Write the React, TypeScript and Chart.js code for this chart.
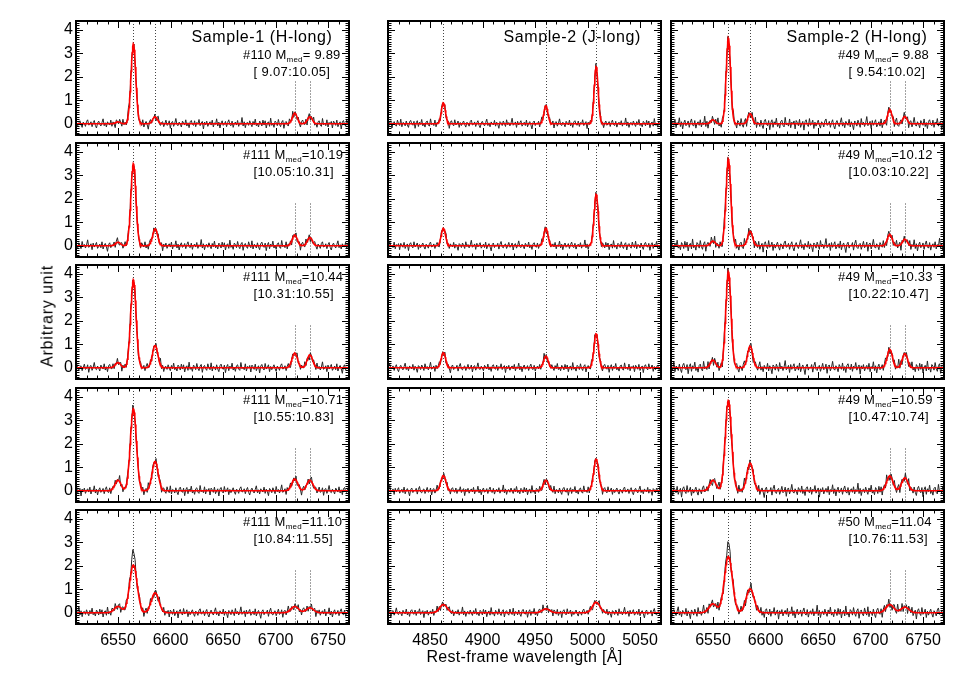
import React, { useEffect, useRef } from 'react';
import { Chart, registerables } from 'chart.js';
Chart.register(...registerables);

// ---------- data ----------
const H_RANGE = [6510, 6770];
const J_RANGE = [4810, 5070];
const Y_RANGE = [-0.48, 4.38];
const H_TICKS = [6550, 6600, 6650, 6700, 6750];
const J_TICKS = [4850, 4900, 4950, 5000, 5050];
const Y_TICKS = [0, 1, 2, 3, 4];

// line centres (vacuum, Angstrom): [NII]6548, Halpha, [NII]6583, [SII]6716, [SII]6731
const H_LINES = [6549.9, 6564.6, 6585.3, 6718.3, 6732.7];
// Hbeta, [OIII]4959, [OIII]5007
const J_LINES = [4862.7, 4960.3, 5008.2];
// marked lines: [centre, full height?]
const H_MARKS: [number, boolean][] = [[6564.6, true], [6585.3, true], [6718.3, false], [6732.7, false]];
const J_MARKS: [number, boolean][] = [[4862.7, true], [4960.3, true], [5008.2, true]];
const MARK_TOP = 1.8;

// model peak heights per row
const S1H_AMP = [
  [0.08, 3.40, 0.30, 0.45, 0.30],
  [0.15, 3.50, 0.72, 0.45, 0.35],
  [0.22, 3.75, 0.95, 0.62, 0.55],
  [0.45, 3.50, 1.25, 0.50, 0.45],
  [0.27, 2.04, 0.85, 0.27, 0.21],
];
const S1H_SIG = [2.3, 2.4, 2.6, 2.9, 3.6];
const S1H_EXTRA = [0, 0, 0, 0, 0.68];

const S2J_AMP = [
  [0.90, 0.77, 2.44],
  [0.75, 0.75, 2.20],
  [0.65, 0.50, 1.45],
  [0.65, 0.45, 1.35],
  [0.35, 0.17, 0.45],
];
const S2J_SIG = [1.9, 2.0, 2.1, 2.4, 3.6];
const S2J_EXTRA = [0, 0, 0, 0, 0];

const S2H_AMP = [
  [0.17, 3.65, 0.43, 0.60, 0.31],
  [0.20, 3.70, 0.62, 0.48, 0.28],
  [0.33, 4.10, 0.92, 0.78, 0.60],
  [0.45, 3.85, 1.18, 0.63, 0.55],
  [0.38, 2.40, 1.02, 0.35, 0.24],
];
const S2H_SIG = [2.1, 2.3, 2.5, 3.0, 3.8];
const S2H_EXTRA = [0, 0, 0, 0, 0.65];

const S1H_ID = ['#110', '#111', '#111', '#111', '#111'];
const S1H_MMED = [' 9.89', '10.19', '10.44', '10.71', '11.10'];
const S1H_MRANGE = ['[ 9.07:10.05]', '[10.05:10.31]', '[10.31:10.55]', '[10.55:10.83]', '[10.84:11.55]'];
const S2H_ID = ['#49', '#49', '#49', '#49', '#50'];
const S2H_MMED = [' 9.88', '10.12', '10.33', '10.59', '11.04'];
const S2H_MRANGE = ['[ 9.54:10.02]', '[10.03:10.22]', '[10.22:10.47]', '[10.47:10.74]', '[10.76:11.53]'];

// residual noise of the observed spectra (hundredths of a unit)
const NOISE = [
  4, -6, 2, 9, -3, -11, 5, 1, -8, 7, 12, -4, -2, 6, -9, 3, 10, -5, -13, 2,
  8, -1, -7, 4, 15, -6, 3, -10, 6, 0, -4, 11, -8, 5, -2, -15, 7, 3, -6, 9,
  1, -9, 13, -3, 4, -7, 2, 18, -5, -1, 6, -12, 8, -4, 3, 10, -8, -2, 5, -6,
  12, -10, 1, 7, -3, -17, 4, 9, -6, 2, -1, 8, -11, 5, 14, -4, -7, 3, 6, -9,
  0, 11, -5, -2, 9, -14, 4, 7, -8, 1, 16, -3, -6, 5, -1, -10, 8, 2, -4, 12,
  -7, 3, -12, 6, 10, -2, -5, 9, -9, 4, -1, 13, -6, 2, 7, -16, 5, -3, 8, -8,
  1, 6, -4, 11, -10, 3, -2, 15, -7, 5, -13, 2, 9, -5, -1, 7, -9, 4, 12, -3,
  -6, 8, -11, 1, 5, -4, 10, -8, 3, -2, 19, -7, 6, -12, 2, 4, -5, 9, -1, -9,
  7, -3, 14, -6, 0, -10, 8, 3, -7, 11, -4, 9, -13, 2, 6, -8, 17, -5, 1, -11,
  8, 4, -6, 13, -2, -9, 5, 10, -14, 3, 7, -3, -8, 12, 0, -6, 15, -10, 4, 2,
  -7, 9, -4, -12, 6, 11, -1, -5, 8, -15, 3, 10, -9, 5, -2, 14, -7, 1, -11, 6,
  9, -4, -8, 16, -3, 2, -6, 12, -10, 4, -1, 7, -13, 8, 3, -5, 11, -9, 0, 6,
  -16, 5, 10, -2, -7, 13, -4, 1, 9, -12,
];

// ---------- layout ----------
const COL_X = [76, 388, 671];
const ROW_Y = [21, 143, 265, 388, 510];
const PW = 273;
const PH = 114;
const PAD_L = 44;
const PAD_B = 36;
const PAD_T = 14;
const PAD_R = 24;
const FONT = "'Liberation Sans', Arial, Helvetica, sans-serif";

function gauss(x: number, c: number, s: number) {
  const d = (x - c) / s;
  return Math.exp(-0.5 * d * d);
}

type PanelProps = {
  left: number; top: number;
  xRange: number[]; xTicks: number[];
  centers: number[]; amps: number[]; sig: number; extra: number;
  marks: [number, boolean][];
  showX: boolean; showY: boolean;
  noiseOffset: number; noiseScale: number;
};

function Panel(p: PanelProps) {
  const ref = useRef<HTMLCanvasElement | null>(null);
  useEffect(() => {
    if (!ref.current) return;
    const model = (x: number) => {
      let y = 0;
      for (let i = 0; i < p.centers.length; i++) y += p.amps[i] * gauss(x, p.centers[i], p.sig);
      return y;
    };
    const hcen = p.centers.length === 5 ? p.centers[1] : p.centers[2];
    const red: { x: number; y: number }[] = [];
    for (let x = p.xRange[0]; x <= p.xRange[1] + 1e-6; x += 0.5) red.push({ x, y: model(x) });
    const blk: { x: number; y: number }[] = [];
    let i = 0;
    for (let x = p.xRange[0] + 0.6; x <= p.xRange[1]; x += 1.05, i++) {
      const n = NOISE[(i + p.noiseOffset) % NOISE.length] * 0.01 * p.noiseScale;
      blk.push({ x, y: model(x) + p.extra * gauss(x, hcen, 1.3) + n });
    }
    const framePlugin = {
      id: 'frame',
      beforeDatasetsDraw(chart: any) {
        const { ctx, chartArea: a, scales } = chart;
        ctx.save();
        ctx.strokeStyle = '#444';
        ctx.lineWidth = 1;
        ctx.setLineDash([1, 2]);
        p.marks.forEach(([c, full]) => {
          const xp = Math.round(scales.x.getPixelForValue(c)) + 0.5;
          const yt = full ? a.top : scales.y.getPixelForValue(MARK_TOP);
          ctx.beginPath();
          ctx.moveTo(xp, yt);
          ctx.lineTo(xp, a.bottom);
          ctx.stroke();
        });
        ctx.restore();
      },
      afterDraw(chart: any) {
        const { ctx, chartArea: a, scales } = chart;
        ctx.save();
        ctx.strokeStyle = '#000';
        ctx.lineWidth = 1;
        ctx.setLineDash([]);
        ctx.beginPath();
        for (let v = Math.ceil(p.xRange[0] / 10) * 10; v <= p.xRange[1]; v += 10) {
          const len = v % 50 === 0 ? 7 : 3.5;
          const xp = Math.round(scales.x.getPixelForValue(v)) + 0.5;
          ctx.moveTo(xp, a.bottom); ctx.lineTo(xp, a.bottom - len);
          ctx.moveTo(xp, a.top); ctx.lineTo(xp, a.top + len);
        }
        for (let k = -4; k <= 43; k++) {
          const v = k / 10;
          if (v < Y_RANGE[0] || v > Y_RANGE[1]) continue;
          const len = k % 10 === 0 ? 7 : 3.5;
          const yp = Math.round(scales.y.getPixelForValue(v)) + 0.5;
          ctx.moveTo(a.left, yp); ctx.lineTo(a.left + len, yp);
          ctx.moveTo(a.right, yp); ctx.lineTo(a.right - len, yp);
        }
        ctx.stroke();
        ctx.lineWidth = 2;
        ctx.strokeRect(a.left, a.top, a.right - a.left, a.bottom - a.top);
        ctx.restore();
      },
    };
    const chart = new Chart(ref.current, {
      type: 'line',
      data: {
        datasets: [
          { data: red, borderColor: '#ff0000', borderWidth: 1.6, pointRadius: 0, tension: 0, fill: false },
          { data: blk, borderColor: '#262626', borderWidth: 1, pointRadius: 0, tension: 0, fill: false },
        ],
      },
      options: {
        animation: false,
        responsive: false,
        devicePixelRatio: 1,
        events: [],
        layout: { padding: { top: PAD_T, right: PAD_R, left: 0, bottom: 0 } },
        plugins: { legend: { display: false }, tooltip: { enabled: false } },
        scales: {
          x: {
            type: 'linear', min: p.xRange[0], max: p.xRange[1],
            grid: { display: false, drawTicks: false }, border: { display: false },
            ticks: {
              display: p.showX, color: '#000', padding: 3, maxRotation: 0, autoSkip: false,
              font: { family: FONT, size: 16, lineHeight: 1.75 }, callback: (v: any) => String(v),
            },
            afterBuildTicks: (s: any) => { s.ticks = p.xTicks.map((v) => ({ value: v })); },
            afterFit: (s: any) => { s.height = PAD_B; },
          },
          y: {
            type: 'linear', min: Y_RANGE[0], max: Y_RANGE[1],
            grid: { display: false, drawTicks: false }, border: { display: false },
            ticks: {
              display: p.showY, color: '#000', padding: 3,
              font: { family: FONT, size: 16 }, callback: (v: any) => String(v),
            },
            afterBuildTicks: (s: any) => { s.ticks = Y_TICKS.map((v) => ({ value: v })); },
            afterFit: (s: any) => { s.width = PAD_L; },
          },
        },
      } as any,
      plugins: [framePlugin],
    });
    return () => chart.destroy();
  }, []);
  const W = PW + PAD_L + PAD_R;
  const H = PH + PAD_T + PAD_B;
  return (
    <canvas
      ref={ref}
      width={W}
      height={H}
      style={{ position: 'absolute', left: p.left - PAD_L, top: p.top - PAD_T, width: W, height: H }}
    />
  );
}

function Label(props: { x: number; y: number; size: number; ls?: number; children: any }) {
  return (
    <div
      style={{
        position: 'absolute', left: props.x, top: props.y - props.size * 0.6,
        fontFamily: FONT, fontSize: props.size, lineHeight: `${props.size * 1.2}px`,
        letterSpacing: props.ls || 0, whiteSpace: 'pre', color: '#000',
      }}
    >
      {props.children}
    </div>
  );
}

export default function App() {
  const cols = [
    { kind: 'H', amps: S1H_AMP, sig: S1H_SIG, extra: S1H_EXTRA, title: 'Sample-1 (H-long)', ids: S1H_ID, mmed: S1H_MMED, mr: S1H_MRANGE, ns: 1.4 },
    { kind: 'J', amps: S2J_AMP, sig: S2J_SIG, extra: S2J_EXTRA, title: 'Sample-2 (J-long)', ids: null, mmed: null, mr: null, ns: 1.3 },
    { kind: 'H', amps: S2H_AMP, sig: S2H_SIG, extra: S2H_EXTRA, title: 'Sample-2 (H-long)', ids: S2H_ID, mmed: S2H_MMED, mr: S2H_MRANGE, ns: 1.7 },
  ];
  const panels: any[] = [];
  const texts: any[] = [];
  cols.forEach((c, ci) => {
    ROW_Y.forEach((ry, ri) => {
      const isH = c.kind === 'H';
      panels.push(
        <Panel
          key={`p${ci}-${ri}`}
          left={COL_X[ci]} top={ry}
          xRange={isH ? H_RANGE : J_RANGE}
          xTicks={isH ? H_TICKS : J_TICKS}
          centers={isH ? H_LINES : J_LINES}
          amps={c.amps[ri]} sig={c.sig[ri]} extra={c.extra[ri]}
          marks={isH ? H_MARKS : J_MARKS}
          showX={ri === 4} showY={ci === 0}
          noiseOffset={(ci * 5 + ri) * 37}
          noiseScale={c.ns}
        />
      );
      if (ri === 0) {
        texts.push(<Label key={`t${ci}`} x={COL_X[ci] + 115.5} y={ry + 15.5} size={16} ls={0.6}>{c.title}</Label>);
      }
      if (c.ids && c.mmed && c.mr) {
        const y1 = ri === 0 ? ry + 34 : ry + 11.5;
        const y2 = ri === 0 ? ry + 51 : ry + 28.5;
        texts.push(
          <Label key={`m${ci}-${ri}`} x={COL_X[ci] + 167} y={y1} size={13} ls={0.2}>
            {c.ids[ri] + ' M'}
            <span style={{ fontSize: 8, position: 'relative', top: 3 }}>med</span>
            {'=' + c.mmed[ri]}
          </Label>
        );
        texts.push(<Label key={`r${ci}-${ri}`} x={COL_X[ci] + 177.5} y={y2} size={13} ls={0.35}>{c.mr[ri]}</Label>);
      }
    });
  });
  return (
    <div style={{ position: 'absolute', left: 0, top: 0, width: 969, height: 678, background: '#fff', overflow: 'hidden' }}>
      {panels}
      {texts}
      <div style={{ position: 'absolute', left: 388, width: 273, top: 647, textAlign: 'center', fontFamily: FONT, fontSize: 16, lineHeight: '19px', letterSpacing: 0.3 }}>
        Rest-frame wavelength [Å]
      </div>
      <div style={{ position: 'absolute', left: 47, top: 316, width: 0, height: 0 }}>
        <div style={{ position: 'absolute', left: 0, top: 0, transform: 'translate(-50%, -50%) rotate(-90deg)', whiteSpace: 'nowrap', fontFamily: FONT, fontSize: 16, lineHeight: '19px', letterSpacing: 0.8 }}>
          Arbitrary unit
        </div>
      </div>
    </div>
  );
}
